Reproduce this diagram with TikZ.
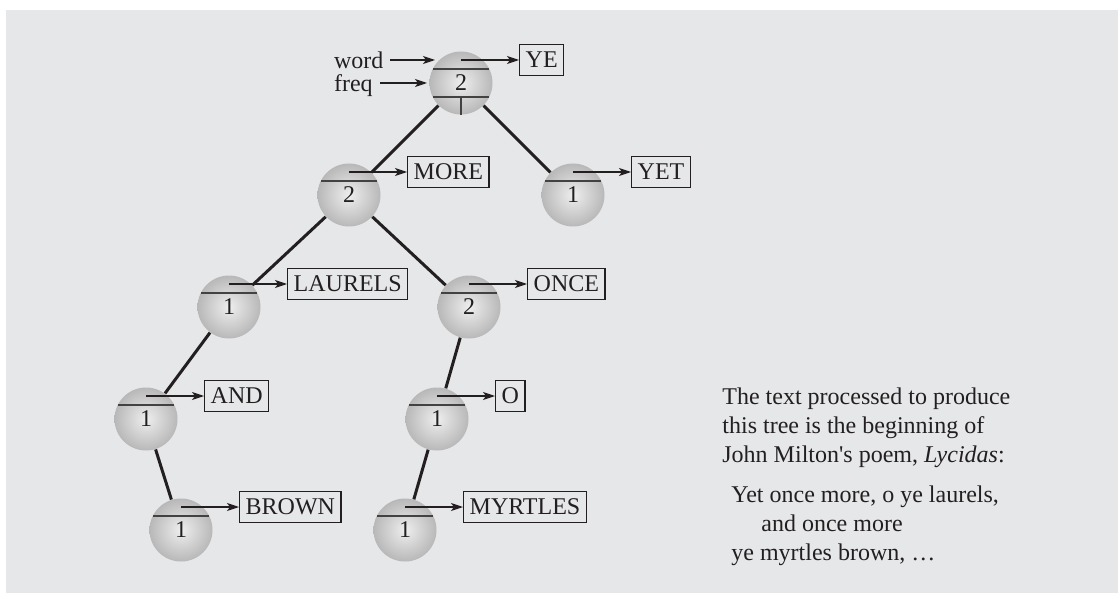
\documentclass[tikz,border=0pt]{standalone}
\usepackage{fontspec}
\setmainfont{Liberation Serif}
\usetikzlibrary{arrows.meta, calc}
\definecolor{fondo}{HTML}{E6E7E9}
\definecolor{tinta}{HTML}{231F20}
\definecolor{bolaclara}{HTML}{EEEEEE}
\definecolor{bolaoscura}{HTML}{B8B8B8}
\tikzset{
  bola/.style={circle, minimum size=31.5pt, inner sep=0pt, inner color=bolaclara, outer color=bolaoscura,
               text=tinta, font=\fontsize{12}{14}\selectfont},
  palabra/.style={rectangle, draw=tinta, line width=0.7pt, minimum height=15.5pt, inner xsep=3pt,
                  inner ysep=2pt, text=tinta, font=\fontsize{12}{14}\selectfont},
  etiqueta/.style={text=tinta, font=\fontsize{12}{14}\selectfont, text depth=0pt},
  texto/.style={text=tinta, font=\fontsize{12}{14.5}\selectfont, align=left, inner sep=0pt},
  rama/.style={line width=1.5pt, draw=tinta},
  raya/.style={line width=0.6pt, draw=tinta!85},
  flecha/.style={line width=0.6pt, draw=tinta, -{Stealth[length=6pt, width=4pt, inset=1.5pt]}}
}
\begin{document}
\begin{tikzpicture}[x=0.5pt, y=-0.5pt]
  \useasboundingbox (0,0) rectangle (1118,593);
  \fill [white] (0,0) rectangle (1118,593);
  \fill [fondo] (6,10) rectangle (1118,593);
  % nodos del arbol: nombre / x / y / frecuencia / palabra
  \foreach \n/\cx/\cy/\f/\w in {ye/461/83/2/YE, more/349/195/2/MORE, yet/573/195/1/YET,
      laurels/229/307/1/LAURELS, once/469/307/2/ONCE, and/146/419/1/AND, o/437/419/1/O,
      brown/181/530/1/BROWN, myrtles/405/530/1/MYRTLES} {
    \node (n\n) [bola] at (\cx,\cy) {\f};
    \draw [raya] ($(n\n)+(-28,-14)$) -- ($(n\n)+(28,-14)$);
    \coordinate (w\n) at ($(n\n)+(0,-23)$);
    \node (b\n) [palabra, anchor=west] at ($(n\n)+(58,-23)$) {\w};
    \draw [flecha] (w\n) -- (b\n);
  }
  \draw [raya] ($(nye)+(-28,14)$) -- ($(nye)+(28,14)$);
  \draw [raya] ($(nye)+(0,14)$) -- (nye.south);
  % etiquetas de los campos
  \coordinate (pword) at ($(nye)+(-26,-23)$);
  \coordinate (pfreq) at ($(nye)+(-34,0)$);
  \node (lword) [etiqueta, anchor=west] at (327,60) {word};
  \node (lfreq) [etiqueta, anchor=west] at (327,83) {freq};
  \draw [flecha] (lword) -- (pword);
  \draw [flecha] (lfreq) -- (pfreq);
  % ramas
  \draw [rama] (nye) -- (nmore);
  \draw [rama] (nye) -- (nyet);
  \draw [rama] (nmore) -- (nlaurels);
  \draw [rama] (nmore) -- (nonce);
  \draw [rama] (nlaurels) -- (nand);
  \draw [rama] (nand) -- (nbrown);
  \draw [rama] (nonce) -- (no);
  \draw [rama] (no) -- (nmyrtles);
  % texto (base = ultima linea)
  \node (intro) [texto, anchor=base west] at (722,462) {The text processed to produce\\
    this tree is the beginning of\\ John Milton\textquotesingle s poem, \textit{Lycidas}:};
  \node (poema) [texto, anchor=base west] at (731,560) {Yet once more, o ye laurels,\\
    \hspace*{15pt}and once more\\ ye myrtles brown, \ldots};
\end{tikzpicture}
\end{document}
